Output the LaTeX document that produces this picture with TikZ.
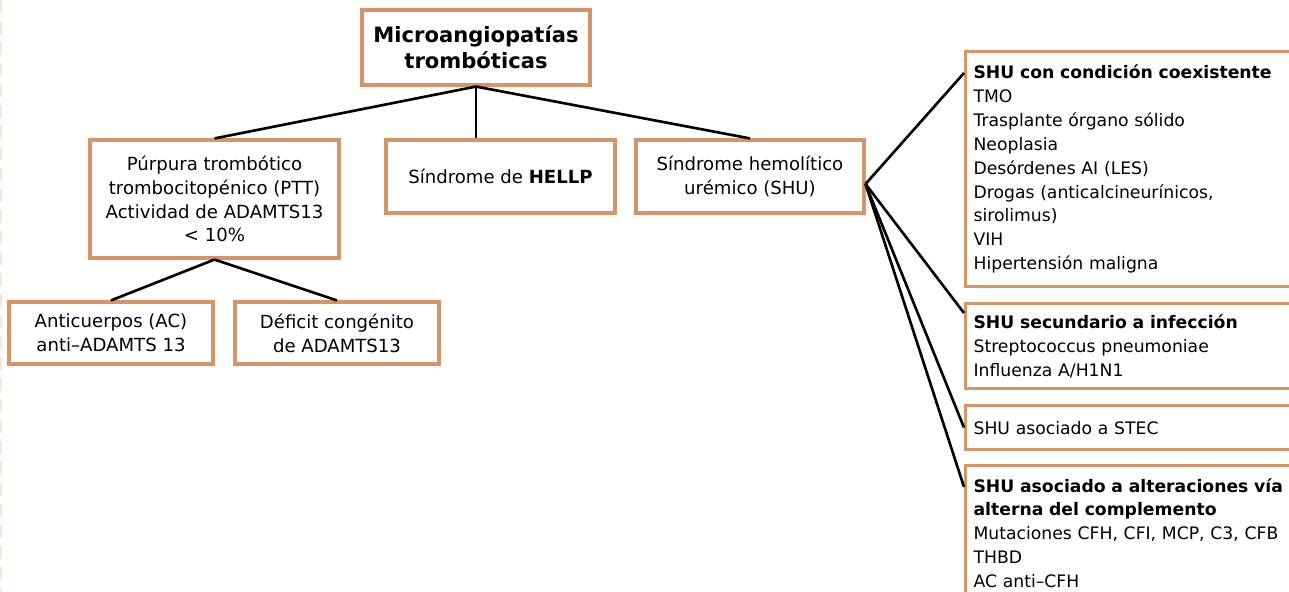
\documentclass[tikz,border=0pt]{standalone}
\usepackage{fontspec}
\setmainfont{DejaVu Sans}
\usetikzlibrary{positioning,calc}
\definecolor{peach}{RGB}{216,148,104}
\definecolor{paleline}{RGB}{250,226,212}

\begin{document}
\begin{tikzpicture}[x=0.02cm,y=-0.02cm,every node/.style={font=\fontsize{9.8}{13.6}\selectfont}]
\tikzstyle{b}=[draw=peach,line width=1.8pt,align=center,fill=white,inner sep=2pt,font=\fontsize{10.3}{13.6}\selectfont]
\tikzstyle{r}=[draw=peach,line width=1.8pt,align=left,fill=white,anchor=north west,text width=7.28cm,inner xsep=0.16cm]
\tikzstyle{l}=[line width=1.5pt]
\useasboundingbox (0,0) rectangle (1289,592);
\draw[paleline,line width=1.2pt,dash pattern=on 0.26cm off 0.16cm] (1,0) -- (1,592);
% niveles superiores
\node[b,minimum width=4.56cm,minimum height=1.5cm,font=\fontsize{12}{14.8}\selectfont\bfseries] (mat) at (476,47.5) {Microangiopatías\\trombóticas};
\node[b,minimum width=4.98cm,minimum height=2.36cm] (ptt) at (214.5,199) {Púrpura trombótico\\trombocitopénico (PTT)\\Actividad de ADAMTS13\\< 10\%};
\node[b,minimum width=4.58cm,minimum height=1.46cm] (hellp) at (500.5,176.5) {Síndrome de \textbf{HELLP}};
\node[b,minimum width=4.56cm,minimum height=1.46cm] (shu) at (750,176.5) {Síndrome hemolítico\\urémico (SHU)};
\node[b,minimum width=4.08cm,minimum height=1.24cm] (ac) at (111,333) {Anticuerpos (AC)\\anti--ADAMTS 13};
\node[b,minimum width=4.08cm,minimum height=1.24cm] (def) at (337,333) {Déficit congénito\\de ADAMTS13};
% subtipos de SHU
\node[r,minimum height=4.7cm] (s1) at (964,50) {\textbf{SHU con condición coexistente}\\TMO\\Trasplante órgano sólido\\Neoplasia\\Desórdenes AI (LES)\\Drogas (anticalcineurínicos,\\sirolimus)\\VIH\\Hipertensión maligna};
\node[r,minimum height=1.7cm] (s2) at (964,302) {\textbf{SHU secundario a infección}\\Streptococcus pneumoniae\\Influenza A/H1N1};
\node[r,minimum height=0.88cm] (s3) at (964,404) {SHU asociado a STEC};
\node[r,minimum height=2.7cm] (s4) at (964,464) {\textbf{SHU asociado a alteraciones vía}\\\textbf{alterna del complemento}\\Mutaciones CFH, CFI, MCP, C3, CFB\\THBD\\AC anti--CFH};
\coordinate (piv) at ([yshift=-0.15cm]shu.east);
\draw[l] (mat.south)--(ptt.north);\draw[l] (mat.south)--(mat.south |- hellp.north);\draw[l] (mat.south)--(shu.north);
\draw[l] (ptt.south)--(ac.north);\draw[l] (ptt.south)--(def.north);
\draw[l] (piv)--([yshift=-0.46cm]s1.north west);\draw[l] (piv)--([yshift=-0.22cm]s2.north west);
\draw[l] (piv)--(s3.west);\draw[l] (piv)--([yshift=-0.46cm]s4.north west);
\end{tikzpicture}
\end{document}
